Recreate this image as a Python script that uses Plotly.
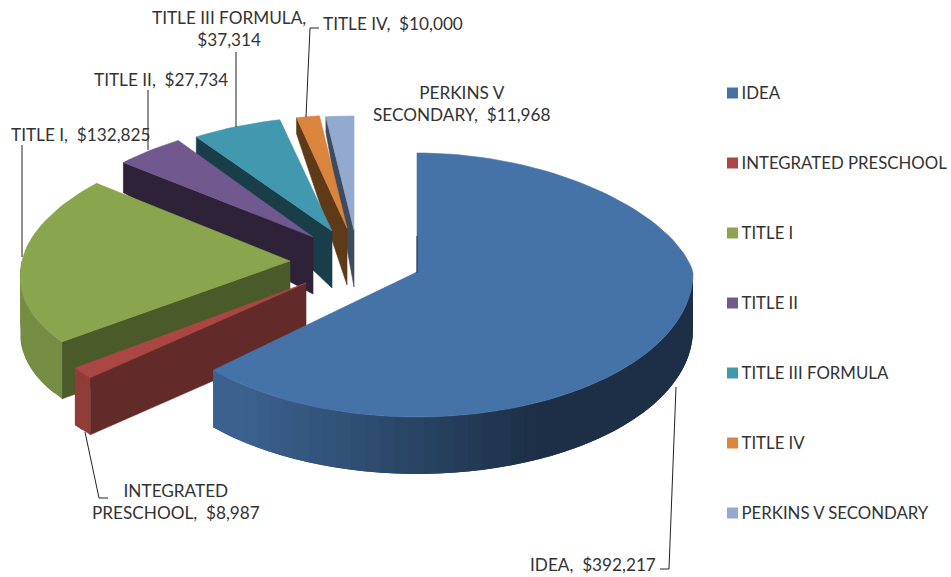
import math
import plotly.graph_objects as go

# ---- data ----
categories = ["IDEA", "INTEGRATED PRESCHOOL", "TITLE I", "TITLE II",
              "TITLE III FORMULA", "TITLE IV", "PERKINS V SECONDARY"]
values = [392217, 8987, 132825, 27734, 37314, 10000, 11968]
label_heads = ["IDEA,", "INTEGRATED<br>PRESCHOOL,", "TITLE I,", "TITLE II,",
               "TITLE III FORMULA,<br>", "TITLE IV,", "PERKINS V<br>SECONDARY,"]
colors = ["#4572A7", "#AA4643", "#89A54E", "#71588F", "#4198AF", "#DB843D", "#93A9CF"]
cut_colors = ["#1c2e48", "#622a28", "#4a5a28", "#2d2238", "#1a3d4a", "#5f3a18", "#3e4a5e"]

# ---- projection of the tilted, exploded pie (screen-pixel axes) ----
apex = [(417, 272), (306, 283), (290, 261), (313, 237), (332, 231), (347, 228), (354, 230)]
radius_x = [276, 270, 268, 270, 262, 265, 270]
ry_back = [119, 119, 122, 117, 114, 113, 114]
ry_front = [145, 140, 133, 143, 143, 143, 143]
persp_back = [0.14, 0.14, 0.10, 0.14, 0.10, 0.14, 0.14]
persp_front = [0.006, 0.128, 0.117, 0.05, 0.05, 0.05, 0.05]
DEPTH, DEPTH_BACK = 57, 42
draw_order = [6, 5, 4, 3, 2, 1, 0]

total = sum(values)
angles = [0.0]
for v in values:
    angles.append(angles[-1] + 360.0 * v / total)


def top_pt(i, deg):
    t = math.radians(deg)
    s, c = math.sin(t), math.cos(t)
    persp = 1 - persp_back[i] * c if c > 0 else 1 - persp_front[i] * c
    ry = ry_back[i] if c > 0 else ry_front[i]
    return apex[i][0] + radius_x[i] * s * persp, apex[i][1] - ry * c


def depth(deg):
    c = math.cos(math.radians(deg))
    return DEPTH - DEPTH_BACK * max(c, 0)


def shade(hex_color, f):
    r, g, b = (int(hex_color[k:k + 2], 16) for k in (1, 3, 5))
    return f"rgb({int(r * f)},{int(g * f)},{int(b * f)})"


def poly(fig, pts, color, edge=0.6):
    xs = [p[0] for p in pts] + [pts[0][0]]
    ys = [p[1] for p in pts] + [pts[0][1]]
    fig.add_trace(go.Scatter(x=xs, y=ys, mode="lines", fill="toself", fillcolor=color,
                             line=dict(color=color, width=edge), hoverinfo="skip",
                             showlegend=False))


fig = go.Figure()

for i in draw_order:
    a0, a1 = angles[i], angles[i + 1]
    n = max(3, int((a1 - a0) / 2))
    arc_deg = [a0 + (a1 - a0) * k / n for k in range(n + 1)]
    ax, ay = apex[i]
    mid = top_pt(i, (a0 + a1) / 2)
    # cut faces: visible when the slice lies above the radial edge
    for edge in (a0, a1):
        ox, oy = top_pt(i, edge)
        if abs(ox - ax) < 1:
            continue
        line_y = ay + (oy - ay) * (mid[0] - ax) / (ox - ax)
        if mid[1] < line_y:
            d = depth(edge)
            poly(fig, [(ax, ay), (ox, oy), (ox, oy + d), (ax, ay + DEPTH)], cut_colors[i])
    # outer wall, front half only; each band runs under the next so no seams show
    lo, hi = max(a0, 90), min(a1, 270)
    if hi > lo:
        steps = max(2, int((hi - lo) / 3))
        for k in range(steps):
            d0 = lo + (hi - lo) * k / steps
            d1 = lo + (hi - lo) * min(k + 2, steps) / steps
            dm = lo + (hi - lo) * (k + 0.5) / steps
            wedge = [d0 + (d1 - d0) * q / 4 for q in range(5)]
            up = [top_pt(i, d) for d in wedge]
            down = [(top_pt(i, d)[0], top_pt(i, d)[1] + depth(d)) for d in reversed(wedge)]
            f = 0.60 + 0.42 * (-math.sin(math.radians(dm)))
            f = max(0.42, min(0.86, f))
            poly(fig, up + down, shade(colors[i], f), edge=0)
    # top face
    poly(fig, [(ax, ay)] + [top_pt(i, d) for d in arc_deg], colors[i])

# thin dark edge where the first slice's near-vertical cut face shows
fig.add_trace(go.Scatter(x=[apex[0][0], apex[0][0]], y=[apex[0][1] + 1, apex[0][1] - 36],
                         mode="lines", line=dict(color=cut_colors[0], width=1),
                         hoverinfo="skip", showlegend=False))

# ---- leader lines ----
leaders = [
    [(676, 387), (669, 569), (660, 569)],
    [(85, 432), (99, 498), (108, 498)],
    [(22, 145), (22, 257)],
    [(148, 90), (148, 150)],
    [(236, 52), (236, 127)],
    [(319, 28), (310, 28), (306, 117)],
]
for seg in leaders:
    fig.add_trace(go.Scatter(x=[p[0] for p in seg], y=[p[1] for p in seg], mode="lines",
                             line=dict(color="#222222", width=1), hoverinfo="skip",
                             showlegend=False))

# ---- data labels ----
FONT = "Lato, Carlito, Calibri, sans-serif"
TEXT = "#333333"
label_pos = [(593, 564), (176, 501), (80, 134), (161, 79), (229, 28), (393, 23), (462, 103)]
for i, (x, y) in enumerate(label_pos):
    head = label_heads[i]
    sep = "" if head.endswith("<br>") else "\u00a0 "
    fig.add_annotation(x=x, y=y, text=f"{head}{sep}${values[i]:,}", showarrow=False,
                       xanchor="center", yanchor="middle", align="center",
                       font=dict(family=FONT, size=17.2, color=TEXT))

# ---- legend column ----
legend_y = [93 + 70 * k for k in range(len(categories))]
fig.add_trace(go.Scatter(x=[732.5] * len(categories), y=legend_y, mode="markers",
                         marker=dict(symbol="square", size=11, color=colors),
                         hoverinfo="skip", showlegend=False))
fig.add_trace(go.Scatter(x=[741.5] * len(categories), y=[v + 1.5 for v in legend_y], mode="text",
                         text=categories, textposition="middle right",
                         textfont=dict(family=FONT, size=16.8, color=TEXT),
                         cliponaxis=False, hoverinfo="skip", showlegend=False))

fig.update_xaxes(range=[0, 951], visible=False, fixedrange=True)
fig.update_yaxes(range=[577, 0], visible=False, fixedrange=True)
fig.update_layout(width=951, height=577, margin=dict(l=0, r=0, t=0, b=0),
                  paper_bgcolor="white", plot_bgcolor="white", showlegend=False)
fig.write_html("out.html", config={"displayModeBar": False},
               post_script="document.body.style.margin='0';document.body.style.overflow='hidden';")
